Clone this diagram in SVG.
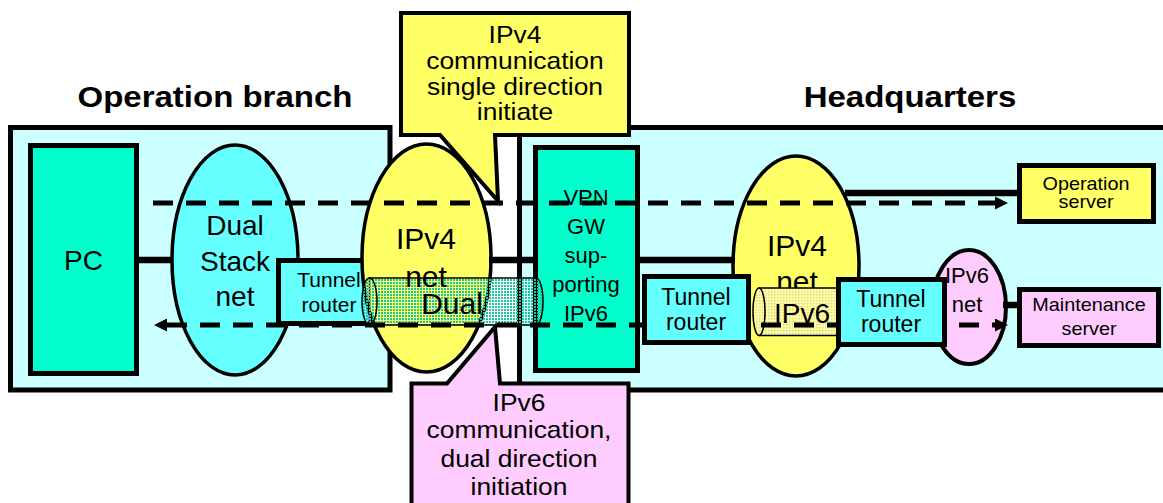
<svg xmlns="http://www.w3.org/2000/svg" width="1163" height="503" viewBox="0 0 1163 503">
<defs>
<style>
text { font-family: "Liberation Sans", Arial, sans-serif; fill: #000; text-anchor: middle; }
.area { fill: #CCFFFF; stroke: #000; stroke-width: 5; }
.box { stroke: #000; stroke-width: 5; }
.ell { stroke: #000; stroke-width: 3.5; }
.green { fill: #00FFCC; }
.cyan { fill: #66FFFF; }
.yellow { fill: #FFFF66; }
.pink { fill: #FFCCFF; }
.callout { stroke: #000; stroke-width: 4; stroke-linejoin: miter; }
.solid { stroke: #000; stroke-width: 6.5; fill: none; }
.dash { stroke: #000; stroke-width: 5; fill: none; stroke-dasharray: 20 13; }
.tube { stroke: #000; stroke-width: 1.5; }
.sx { transform-box: fill-box; transform-origin: center; transform: scaleX(1.1); }
.head { font-weight: bold; font-size: 30px; }
.f30 { font-size: 30px; }
.f28 { font-size: 28px; }
.f24 { font-size: 24px; }
.f23 { font-size: 23px; }
.f22 { font-size: 22px; }
.f21 { font-size: 21px; }
.f18 { font-size: 18px; }
</style>
<pattern id="dotsTeal" width="3" height="3" patternUnits="userSpaceOnUse">
<rect width="2" height="2" fill="#1FC4A0"/>
</pattern>
<pattern id="dotsYel" width="3" height="3" patternUnits="userSpaceOnUse">
<rect width="3" height="3" fill="#FFFFA6"/>
<rect width="1.5" height="1.5" fill="#E0D68A"/>
</pattern>
<marker id="arr" viewBox="0 0 13 13" refX="0" refY="6.5" markerWidth="13" markerHeight="13" markerUnits="userSpaceOnUse" orient="auto-start-reverse">
<path d="M0,0 L13,6.5 L0,13 Z" fill="#000"/>
</marker>
</defs>

<g id="operation-branch">
<rect class="area" x="10.5" y="127.5" width="379.5" height="262.5"/>
<text class="head sx" x="215" y="107">Operation branch</text>
</g>
<g id="headquarters">
<rect class="area" x="519.5" y="127.5" width="700" height="262.5"/>
<text class="head sx" x="910" y="107">Headquarters</text>
</g>

<g id="pc">
<rect class="box green" x="30.5" y="145.5" width="106" height="228"/>
<text class="f28" x="83.5" y="270">PC</text>
</g>

<g id="dual-stack-net">
<ellipse class="ell cyan" cx="235" cy="260" rx="63" ry="115"/>
<text class="f28"><tspan x="235" y="235">Dual</tspan><tspan x="235" y="271">Stack</tspan><tspan x="235" y="306">net</tspan></text>
</g>

<g id="tunnel-router-branch">
<rect class="box cyan" x="278.5" y="260.5" width="102" height="63"/>
<text class="f21"><tspan x="329" y="287">Tunnel</tspan><tspan x="329" y="312">router</tspan></text>
</g>

<g id="vpn-gw">
<rect class="box green" x="535.5" y="147.5" width="102" height="223"/>
<text class="f22"><tspan x="586" y="205">VPN</tspan><tspan x="586" y="234">GW</tspan><tspan x="586" y="263">sup-</tspan><tspan x="586" y="292">porting</tspan><tspan x="586" y="321">IPv6</tspan></text>
</g>

<g id="ipv4-net-branch">
<ellipse class="ell yellow" cx="426.5" cy="258" rx="64.5" ry="114"/>
<g id="tunnel-dual">
<path class="tube" d="M369.5,278 H536 A7,23.5 0 0 1 536,325 H369.5 Z" fill="url(#dotsTeal)"/>
<ellipse class="tube" cx="369.5" cy="301.5" rx="7.5" ry="23.5" fill="url(#dotsTeal)"/>
<text class="f30" x="452" y="314">Dual</text>
</g>
<text class="f30"><tspan x="426" y="249">IPv4</tspan><tspan x="426" y="287">net</tspan></text>
</g>

<g id="ipv4-net-hq">
<ellipse class="ell yellow" cx="796" cy="266" rx="63" ry="110"/>
<text class="f30"><tspan x="797" y="256">IPv4</tspan><tspan x="797" y="292">net</tspan></text>
<g id="tunnel-ipv6">
<path class="tube" d="M759,288 H845 V335.5 H759 Z" fill="url(#dotsYel)"/>
<ellipse class="tube" cx="759" cy="311.75" rx="6" ry="23.75" fill="url(#dotsYel)"/>
<text class="f28" x="802" y="323">IPv6</text>
</g>
</g>

<g id="ipv6-net">
<ellipse class="ell pink" cx="969" cy="307" rx="37" ry="57" style="stroke-width:4"/>
<text class="f22"><tspan x="967" y="283">IPv6</tspan><tspan x="967" y="312">net</tspan></text>
</g>

<g id="operation-server">
<rect class="box yellow" x="1019.5" y="165.5" width="134" height="56"/>
<text class="f18 sx"><tspan x="1086" y="190">Operation</tspan><tspan x="1086" y="208">server</tspan></text>
</g>

<g id="maintenance-server">
<rect class="box pink" x="1019.5" y="289.5" width="139" height="56"/>
<text class="f18 sx"><tspan x="1089" y="311">Maintenance</tspan><tspan x="1089" y="335">server</tspan></text>
</g>

<g id="connectors">
<line class="solid" x1="137" y1="260" x2="173" y2="260"/>
<line class="solid" x1="489" y1="260" x2="536" y2="260"/>
<line class="solid" x1="638" y1="260" x2="735" y2="260"/>
<line class="solid" x1="845" y1="193" x2="1018" y2="193"/>
<line class="solid" x1="1003" y1="305" x2="1018" y2="305"/>
<line class="dash" x1="153" y1="203" x2="995" y2="203" marker-end="url(#arr)"/>
<line class="dash" x1="167" y1="325" x2="995" y2="325" marker-start="url(#arr)" marker-end="url(#arr)"/>
</g>

<g id="tunnel-router-hq-1">
<rect class="box cyan" x="644.5" y="276.5" width="104" height="66"/>
<text class="f23"><tspan x="696" y="305">Tunnel</tspan><tspan x="696" y="330">router</tspan></text>
</g>

<g id="tunnel-router-hq-2">
<rect class="box cyan" x="838.5" y="279.5" width="106" height="65"/>
<text class="f23"><tspan x="891" y="307">Tunnel</tspan><tspan x="891" y="332">router</tspan></text>
</g>

<g id="callout-ipv4">
<path class="callout yellow" d="M401,13 H629 V135 H495 L498,201 L440,135 H401 Z"/>
<text class="f24 sx"><tspan x="515" y="43">IPv4</tspan><tspan x="515" y="69">communication</tspan><tspan x="515" y="95">single direction</tspan><tspan x="515" y="120">initiate</tspan></text>
</g>

<g id="callout-ipv6">
<path class="callout pink" d="M411.5,383.5 H447 L495,327 L500,383.5 H628.5 V510 H411.5 Z"/>
<text class="f24 sx"><tspan x="519" y="411">IPv6</tspan><tspan x="519" y="438">communication,</tspan><tspan x="519" y="467">dual direction</tspan><tspan x="519" y="495">initiation</tspan></text>
</g>
</svg>
